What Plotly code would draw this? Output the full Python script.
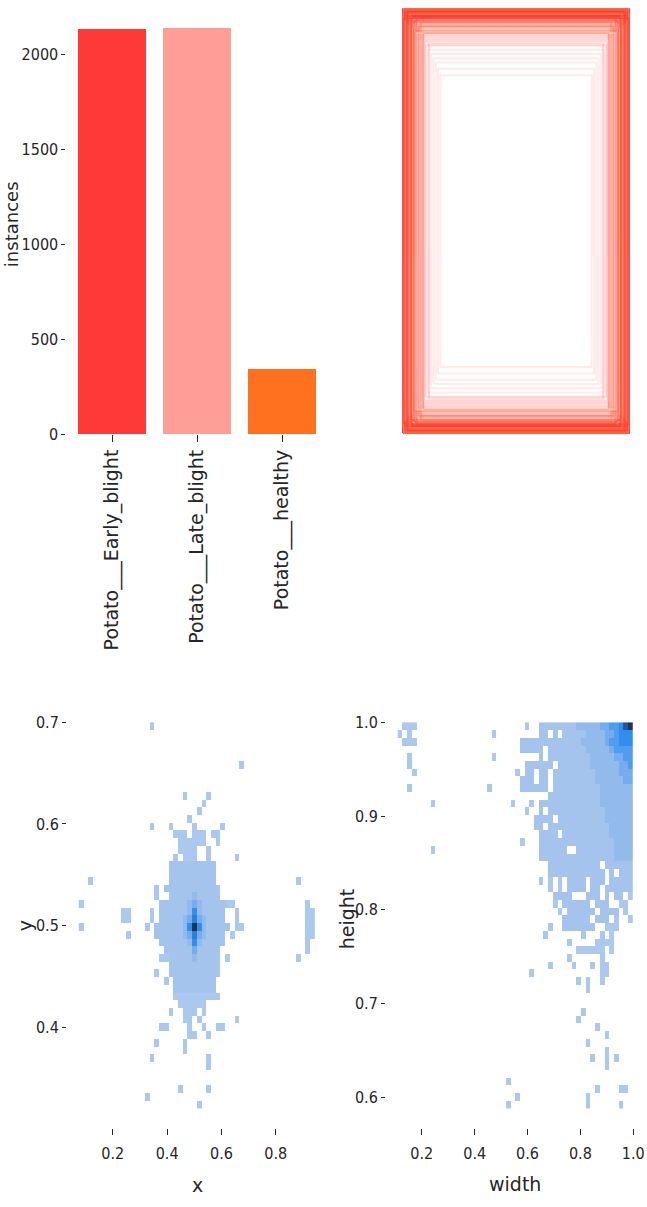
import plotly.graph_objects as go

W, H = 647, 1207

# ---------------- data ----------------
class_names = ["Potato___Early_blight", "Potato___Late_blight", "Potato___healthy"]
class_counts = [2131, 2136, 344]
class_colors = ["#FF3838", "#FF9D97", "#FF701F"]

# normalized label boxes (width, height, class) drawn centred
box_w = [1.00, 1.00, 1.00, 1.00, 1.00, 1.00, 0.99, 0.99, 0.99, 0.99, 0.98, 0.98, 0.98, 0.98,
         0.97, 0.97, 0.97, 0.96, 0.96, 0.96, 0.95, 0.95, 0.94, 0.94, 0.93, 0.93, 0.92, 0.91,
         0.90, 0.90, 0.89, 0.88, 0.87, 0.86, 0.85, 0.84, 0.83, 0.82, 0.81, 0.80, 0.78, 0.77,
         0.75, 0.73, 0.71, 0.69, 0.67]
box_h = [1.00, 1.00, 0.99, 1.00, 0.98, 1.00, 0.97, 0.99, 1.00, 0.96, 0.98, 0.99, 0.95, 1.00,
         0.97, 1.00, 0.94, 0.98, 0.96, 0.99, 0.93, 0.97, 0.98, 0.92, 0.96, 0.94, 0.97, 0.91,
         0.95, 0.90, 0.93, 0.96, 0.88, 0.92, 0.87, 0.94, 0.86, 0.89, 0.85, 0.83, 0.81, 0.84,
         0.79, 0.77, 0.75, 0.72, 0.69]
box_cls = [0, 0, 2, 0, 1, 0, 2, 0, 1, 0, 2, 0, 1, 0,
           0, 2, 1, 0, 2, 0, 1, 0, 2, 1, 0, 2, 0, 1,
           0, 2, 1, 0, 1, 0, 1, 2, 1, 0, 1, 1, 1, 0,
           1, 1, 1, 1, 1]

# 2D histogram bins (50 x 50)
xy_x_lo, xy_x_hi = 0.075, 0.945
xy_y_lo, xy_y_hi = 0.320, 0.700
wh_x_lo, wh_x_hi = 0.109, 1.000
wh_y_lo, wh_y_hi = 0.588, 1.000
NB = 50

# occupied cells per row (row 0 = top); "cols=level"
xy_cells = {
    0: "15=1", 5: "34=1", 9: "22=1 27=1", 10: "26=1", 11: "25=1", 12: "23=1",
    13: "15=1 19=1 24=1 30=1",
    14: "20-22=1 24-26=1 28-29=1",
    15: "21-26=1 29=1",
    16: "21-24=1 27=1",
    17: "20=1 22-24=1 27=1 33=1",
    18: "19-28=2",
    19: "19-28=2",
    20: "2=1 19-28=2 46=1",
    21: "16=1 18-29=2",
    22: "16=1 19-23=2 24=3 25-29=2",
    23: "0=1 17-22=2 23=3 24=4 25=3 26-30=2 31-32=1 48=1",
    24: "9-10=1 15=1 17-22=2 23=3 24=6 25=3 26-30=2 33=1 48-49=1",
    25: "9-10=1 15=1 17-21=2 22=3 23=4 24=7 25=4 26=3 27-30=2 33=1 48-49=1",
    26: "0=1 14=1 16-21=2 22=3 23=6 24=9 25=6 26=3 27-31=2 33-34=1 48-49=1",
    27: "10=1 16-21=2 22=3 23=4 24=7 25=4 26=3 27-30=2 32=1 48-49=1",
    28: "17-22=2 23=3 24=6 25=3 26-30=2 48=1",
    29: "18-23=2 24=4 25-29=2 48=1",
    30: "17-18=1 19-23=2 24=3 25-29=2 31=1 46=1",
    31: "19-29=2",
    32: "16=1 19-29=2",
    33: "18=1 20-28=2",
    34: "20-28=2",
    35: "20-29=1",
    36: "21-26=1",
    37: "19=1 22-24=1 26=1",
    38: "22-23=1 25=1 33=1",
    39: "17-18=1 23=1 26=1 29-30=1",
    40: "23-24=1 27=1",
    41: "16=1 22=1",
    42: "22=1",
    43: "15=1 27=1",
    44: "27=1",
    47: "21=1 27=1",
    48: "14=1",
    49: "25=1",
}

wh_cells = {
    0: "1-3=1 27=1 30-37=2 38-42=3 43-44=4 45-46=5 47=6 48=8 49=9",
    1: "0=1 2=1 20=1 30-31=2 33=2 35-39=2 40-43=3 44-45=4 46=5 47=6 48-49=6",
    2: "1-3=1 26-38=2 39-43=3 44=4 45-46=5 47-48=6 49=6",
    3: "26-30=2 32-39=2 40-44=3 45=4 46-47=5 48-49=5",
    4: "2=1 20=1 30=2 32-40=2 41-45=3 46-47=4 48-49=5",
    5: "2=1 27-32=2 34-40=2 41-46=3 47-48=4 49=5",
    6: "3=1 25=1 27-28=2 30-31=2 33-41=2 42-46=3 47-49=4",
    7: "26-28=2 30-31=2 33-41=2 42-47=3 48-49=4",
    8: "2=1 19=1 26-31=2 33-42=2 43-49=3",
    9: "32-42=2 43-49=3",
    10: "7=1 24=1 28=1 30-42=2 43-49=3",
    11: "27=1 30=2 32-43=2 44-49=3",
    12: "29-32=2 34-43=2 44-49=3",
    13: "29-30=2 32-44=2 45-49=3",
    14: "30-33=2 35-44=2 45-49=3",
    15: "26=1 30-45=2 46-49=3",
    16: "7=1 30-35=2 38-45=2 46-49=3",
    17: "30-45=2 46-49=3",
    18: "32-42=2 44-49=2",
    19: "32-43=2 45=2 47-49=2",
    20: "30=1 32=1 34=1 36-39=2 41-43=2 45-49=2",
    21: "32=1 34=1 36-39=2 41-42=2 44-49=2",
    22: "33-36=2 40-42=2 44=2 46-47=2 49=1",
    23: "33=1 35-40=2 42-44=2 47-48=1",
    24: "34=1 36-41=2 43-46=2 48=1",
    25: "35-40=2 42-44=2 46=1 49=1",
    26: "32=1 35-41=2 44-46=1",
    27: "31=1 39=1 43=1 45=1",
    28: "36=1 42-45=1",
    29: "38-43=1 45=1",
    30: "36=1 43=1",
    31: "32=1 37=1 41=1 43-44=1",
    32: "28=1 43-44=1",
    33: "38=1 40=1 43=1",
    34: "40=1",
    37: "39=1",
    38: "38=1",
    39: "42=1",
    40: "44=1",
    41: "40=1",
    42: "44=1",
    43: "41=1 44=1 46=1",
    44: "44=1",
    46: "23=1",
    47: "42=1 47-48=1",
    48: "25=1 40=1",
    49: "23=1 40=1 47=1",
}

level_colors = ["#abc8ee", "#a4c4ed", "#92bbec", "#74acee", "#4f9df0",
                "#2f8ef0", "#2a7fd8", "#24589a", "#1f3550"]


def build_grid(cells):
    z = [[None] * NB for _ in range(NB)]
    for r, spec in cells.items():
        for seg in spec.split():
            cols, lev = seg.split("=")
            if "-" in cols:
                a, b = map(int, cols.split("-"))
            else:
                a = b = int(cols)
            for c in range(a, b + 1):
                z[r][c] = int(lev)
    return z


def centers_x(lo, hi):
    d = (hi - lo) / NB
    return [lo + (i + 0.5) * d for i in range(NB)]


def centers_y_top(lo, hi):
    d = (hi - lo) / NB
    return [hi - (i + 0.5) * d for i in range(NB)]


colorscale = [[i / 8, c] for i, c in enumerate(level_colors)]

fig = go.Figure()

# bar chart
fig.add_trace(go.Bar(x=list(range(len(class_names))), y=class_counts, width=0.8,
                     marker=dict(color=class_colors, line=dict(width=0)),
                     xaxis="x", yaxis="y", showlegend=False, hoverinfo="skip"))

# boxes
for w, h, c in zip(box_w, box_h, box_cls):
    x0, x1 = 0.5 - w / 2, 0.5 + w / 2
    y0, y1 = 0.5 - h / 2, 0.5 + h / 2
    if w >= 0.9 and h >= 0.9:
        op = 0.6
    elif w >= 0.8 and h >= 0.82:
        op = 0.42
    else:
        op = 0.2
    fig.add_trace(go.Scatter(x=[x0, x1, x1, x0, x0], y=[y0, y0, y1, y1, y0], mode="lines",
                             line=dict(color=class_colors[c], width=2), opacity=op,
                             xaxis="x2", yaxis="y2", showlegend=False, hoverinfo="skip"))

# x-y histogram
fig.add_trace(go.Heatmap(x=centers_x(xy_x_lo, xy_x_hi), y=centers_y_top(xy_y_lo, xy_y_hi),
                         z=build_grid(xy_cells), zmin=1, zmax=9, colorscale=colorscale,
                         showscale=False, hoverinfo="skip", xaxis="x3", yaxis="y3"))
# width-height histogram
fig.add_trace(go.Heatmap(x=centers_x(wh_x_lo, wh_x_hi), y=centers_y_top(wh_y_lo, wh_y_hi),
                         z=build_grid(wh_cells), zmin=1, zmax=9, colorscale=colorscale,
                         showscale=False, hoverinfo="skip", xaxis="x4", yaxis="y4"))

TXT = "#262626"
tick_font = dict(family="DejaVu Sans Condensed, DejaVu Sans, sans-serif", size=16, color=TXT)
lab_font = dict(family="DejaVu Sans, sans-serif", size=19, color=TXT)


def px_x(a, b):
    return [a / W, b / W]


def px_y(top, bottom):
    return [1 - bottom / H, 1 - top / H]


base = dict(showgrid=False, zeroline=False, showline=False, ticks="outside",
            tickcolor=TXT, tickwidth=1, tickfont=tick_font)

fig.update_layout(
    width=W, height=H, margin=dict(l=0, r=0, t=0, b=0),
    paper_bgcolor="white", plot_bgcolor="white", bargap=0,
    xaxis=dict(base, domain=px_x(66.4, 328), range=[-0.54, 2.54], anchor="y",
               tickvals=[0, 1, 2], ticktext=class_names, tickangle=-90, ticklen=7,
               tickfont=dict(family="DejaVu Sans, sans-serif", size=19, color=TXT)),
    yaxis=dict(base, domain=px_y(8, 437.7), range=[0, 2243], anchor="x",
               tickvals=[0, 500, 1000, 1500, 2000], ticklen=4),
    xaxis2=dict(domain=px_x(402, 630), range=[-0.004, 1.004], visible=False, anchor="y2"),
    yaxis2=dict(domain=px_y(8, 438), range=[-0.004, 1.004], visible=False, anchor="x2"),
    xaxis3=dict(base, domain=px_x(67, 327), range=[0.0315, 0.9885], anchor="y3",
                tickvals=[0.2, 0.4, 0.6, 0.8], ticktext=["0.2", "0.4", "0.6", "0.8"],
                ticklen=6, ticklabelstandoff=5),
    yaxis3=dict(base, domain=px_y(709, 1137), range=[0.301, 0.719], anchor="x3",
                tickvals=[0.4, 0.5, 0.6, 0.7], ticktext=["0.4", "0.5", "0.6", "0.7"], ticklen=4),
    xaxis4=dict(base, domain=px_x(386, 645), range=[0.0645, 1.0446], anchor="y4",
                tickvals=[0.2, 0.4, 0.6, 0.8, 1.0], ticktext=["0.2", "0.4", "0.6", "0.8", "1.0"],
                ticklen=6, ticklabelstandoff=5),
    yaxis4=dict(base, domain=px_y(709, 1137), range=[0.5674, 1.0206], anchor="x4",
                tickvals=[0.6, 0.7, 0.8, 0.9, 1.0], ticktext=["0.6", "0.7", "0.8", "0.9", "1.0"],
                ticklen=4),
)

annots = [
    ("instances", 11, 226, -90, 18),
    ("y", 25, 934, -90, 19),
    ("height", 347, 926, -90, 19),
    ("x", 197, 1195, 0, 19),
    ("width", 515, 1194, 0, 19),
]
for t, x, y, ang, fs in annots:
    fig.add_annotation(text=t, x=x / W, y=1 - y / H, xref="paper", yref="paper",
                       showarrow=False, textangle=ang, font=dict(lab_font, size=fs),
                       xanchor="center", yanchor="middle", borderpad=0)

fig.write_html("out.html", config={"displayModeBar": False},
               post_script="document.body.style.margin='0';document.body.style.overflow='hidden';")
